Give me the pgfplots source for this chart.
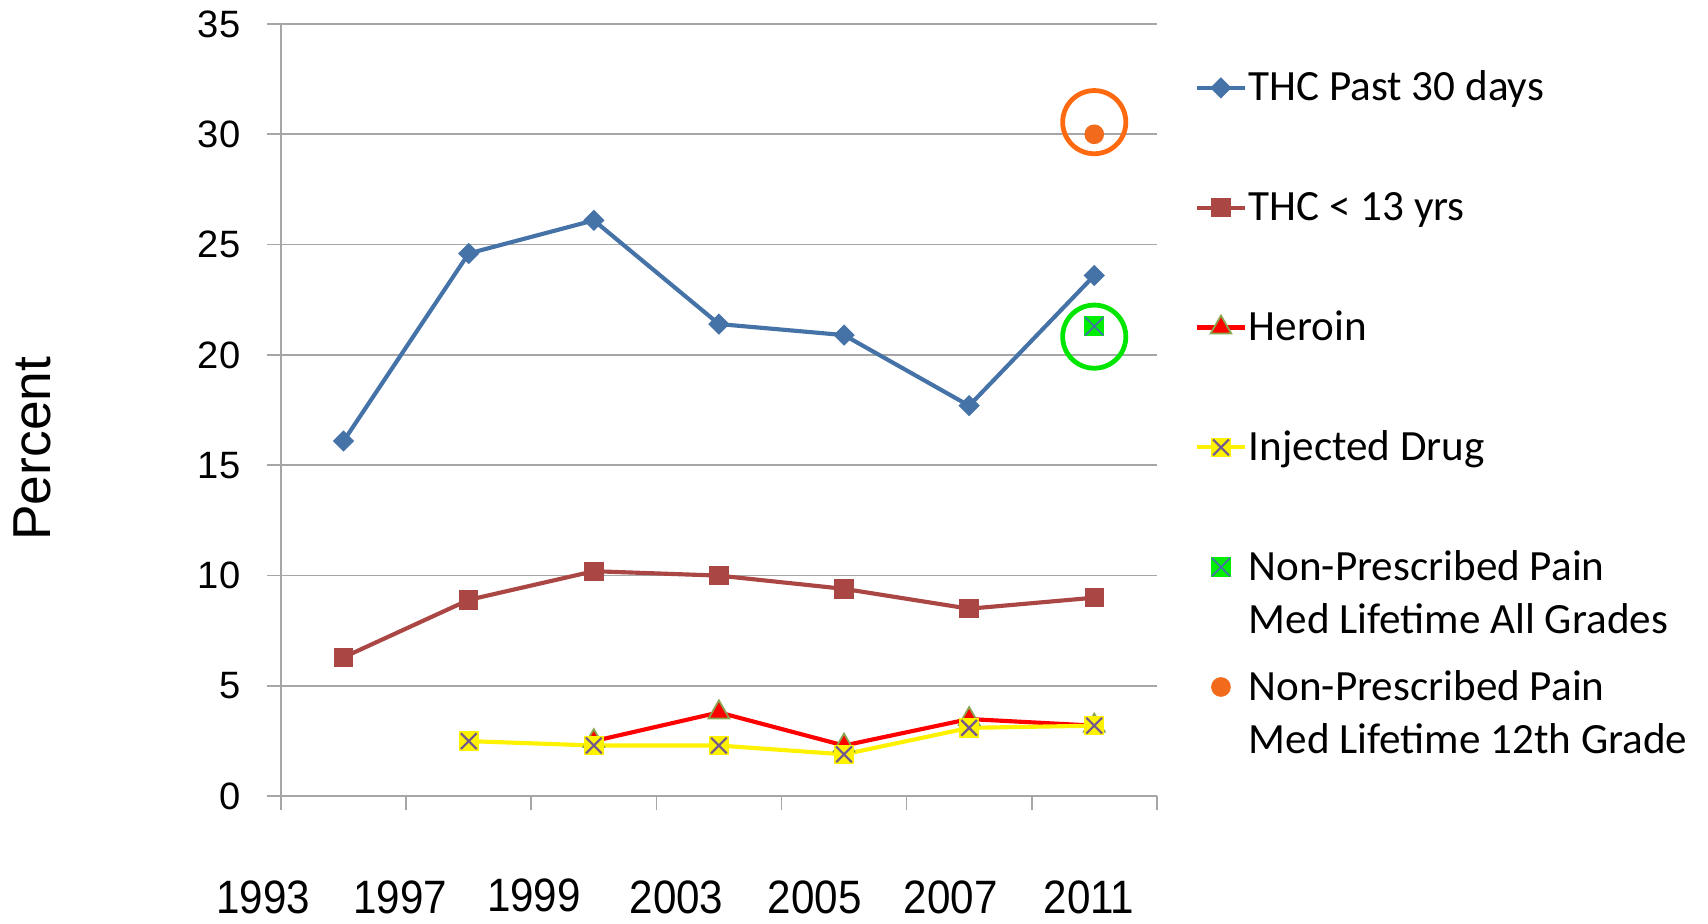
\documentclass[border=0pt]{standalone}
\usepackage{fontspec}
\setmainfont{Liberation Sans}
\newfontfamily\legfont{Carlito}
\newfontfamily\xfont{Liberation Sans}[FakeStretch=0.9]
\usepackage{pgfplots}
\pgfplotsset{compat=1.18}

\definecolor{thcblue}{HTML}{4572A7}
\definecolor{thcred}{HTML}{AA4643}
\definecolor{herborder}{HTML}{89A54E}
\definecolor{xpurple}{HTML}{71588F}
\definecolor{medgreen}{HTML}{00EE00}
\definecolor{medorange}{HTML}{F26A1B}
\definecolor{ringorange}{HTML}{FF6A10}
\definecolor{ringgreen}{HTML}{00E600}
\definecolor{gridgray}{HTML}{A6A6A6}

\pgfdeclareplotmark{injx}{%
  \pgfpathrectangle{\pgfqpoint{-\pgfplotmarksize}{-\pgfplotmarksize}}{\pgfqpoint{2\pgfplotmarksize}{2\pgfplotmarksize}}%
  \pgfsetfillcolor{yellow}\pgfusepath{fill}%
  \pgfsetstrokecolor{xpurple}\pgfsetlinewidth{1pt}%
  \pgfpathmoveto{\pgfqpoint{-.8\pgfplotmarksize}{-.8\pgfplotmarksize}}\pgfpathlineto{\pgfqpoint{.8\pgfplotmarksize}{.8\pgfplotmarksize}}%
  \pgfpathmoveto{\pgfqpoint{-.8\pgfplotmarksize}{.8\pgfplotmarksize}}\pgfpathlineto{\pgfqpoint{.8\pgfplotmarksize}{-.8\pgfplotmarksize}}%
  \pgfusepath{stroke}%
}
\pgfdeclareplotmark{medx}{%
  \pgfpathrectangle{\pgfqpoint{-\pgfplotmarksize}{-\pgfplotmarksize}}{\pgfqpoint{2\pgfplotmarksize}{2\pgfplotmarksize}}%
  \pgfsetfillcolor{medgreen}\pgfusepath{fill}%
  \pgfsetstrokecolor{thcblue}\pgfsetlinewidth{0.8pt}%
  \pgfpathmoveto{\pgfqpoint{-.9\pgfplotmarksize}{-.9\pgfplotmarksize}}\pgfpathlineto{\pgfqpoint{.9\pgfplotmarksize}{.9\pgfplotmarksize}}%
  \pgfpathmoveto{\pgfqpoint{-.9\pgfplotmarksize}{.9\pgfplotmarksize}}\pgfpathlineto{\pgfqpoint{.9\pgfplotmarksize}{-.9\pgfplotmarksize}}%
  \pgfusepath{stroke}%
}
\newcommand{\twoline}[2]{\smash{\begin{tabular}[t]{@{}l@{}}#1\\#2\end{tabular}}}
\newcommand{\shiftlab}[2]{\makebox[0pt][c]{\hspace*{#1}#2}}

\begin{document}
\begin{tikzpicture}
\useasboundingbox (0,0) rectangle (784pt,424pt);
\begin{axis}[
  at={(129pt,58.5pt)}, anchor=south west,
  scale only axis, width=402pt, height=354.5pt,
  xmin=-0.5, xmax=6.5, ymin=0, ymax=35,
  axis lines*=left,
  axis line style={draw=gridgray, line width=0.75pt},
  ytick={0,5,...,35},
  ymajorgrids,
  grid style={gridgray, line width=0.75pt},
  xtick={-0.5,0.452,1.522,2.661,3.765,4.852,5.957},
  xticklabels={\shiftlab{-16.4pt}{1993},1997,\raisebox{1.3pt}{1999},2003,2005,2007,2011},
  minor xtick={-0.5,0.5,...,6.5},
  major x tick style={draw=none},
  tick align=outside,
  major tick length=6.5pt, minor tick length=6.5pt,
  tick style={gridgray, line width=0.75pt},
  /pgf/number format/assume math mode=true,
  y tick label style={font=\fontsize{17.5}{20}\selectfont, anchor=east, inner sep=0pt, xshift=-12pt},
  x tick label style={font=\xfont\fontsize{21.5}{24}\selectfont, anchor=base, inner sep=0pt, yshift=-47.5pt},
  ylabel={Percent},
  every axis y label/.style={at={(axis description cs:-0.2836,0.45)}, anchor=center, rotate=90, font=\fontsize{24.5}{28}\selectfont},
  legend cell align=left,
  legend style={
    draw=none, fill=none,
    at={(rel axis cs:1.0435,0.9398)}, anchor=north west,
    inner sep=0pt, outer sep=0pt,
    row sep=37pt, column sep=0.8pt,
    font=\legfont\fontsize{19.8}{24.5}\selectfont,
    nodes={inner sep=0pt, text height=14pt, text depth=4pt, anchor=base west},
    cells={anchor=base west},
  },
  legend image code/.code={\draw[mark repeat=2,mark phase=2,#1] plot coordinates {(0pt,6pt) (11pt,6pt) (22pt,6pt)};},
]
\addplot[thcblue, line width=1.9pt, mark=square*, mark size=3.2pt, mark options={rotate=45, fill=thcblue, draw=thcblue, line width=0.5pt}]
  coordinates {(0,16.1) (1,24.6) (2,26.1) (3,21.4) (4,20.9) (5,17.7) (6,23.6)};
\addlegendentry{THC Past 30 days}
\addplot[thcred, line width=1.9pt, mark=square*, mark size=4.2pt, mark options={fill=thcred, draw=thcred, line width=0.5pt}]
  coordinates {(0,6.3) (1,8.9) (2,10.2) (3,10.0) (4,9.4) (5,8.5) (6,9.0)};
\addlegendentry{THC < 13 yrs}
\addplot[red, line width=1.9pt, mark=triangle*, mark size=5.5pt, mark options={fill=red, draw=herborder, line width=0.8pt}]
  coordinates {(2,2.5) (3,3.8) (4,2.3) (5,3.5) (6,3.2)};
\addlegendentry{Heroin}
\addplot[yellow, line width=1.9pt, mark=injx, mark size=4.5pt]
  coordinates {(1,2.5) (2,2.3) (3,2.3) (4,1.9) (5,3.1) (6,3.2)};
\addlegendentry{Injected Drug}
\addplot[only marks, mark=medx, mark size=4.6pt]
  coordinates {(6,21.3)};
\addlegendentry{\twoline{Non-Prescribed Pain}{Med Lifetime All Grades}}
\addplot[only marks, mark=*, mark size=4.3pt, mark options={fill=medorange, draw=medorange}]
  coordinates {(6,30.0)};
\addlegendentry{\twoline{Non-Prescribed Pain}{Med Lifetime 12th Grade}}
\addplot[forget plot, only marks, mark=o, mark size=14.5pt, mark options={draw=ringorange, line width=2.2pt}]
  coordinates {(6,30.55)};
\addplot[forget plot, only marks, mark=o, mark size=14.5pt, mark options={draw=ringgreen, line width=2.2pt}]
  coordinates {(6,20.83)};
\end{axis}
\end{tikzpicture}
\end{document}
